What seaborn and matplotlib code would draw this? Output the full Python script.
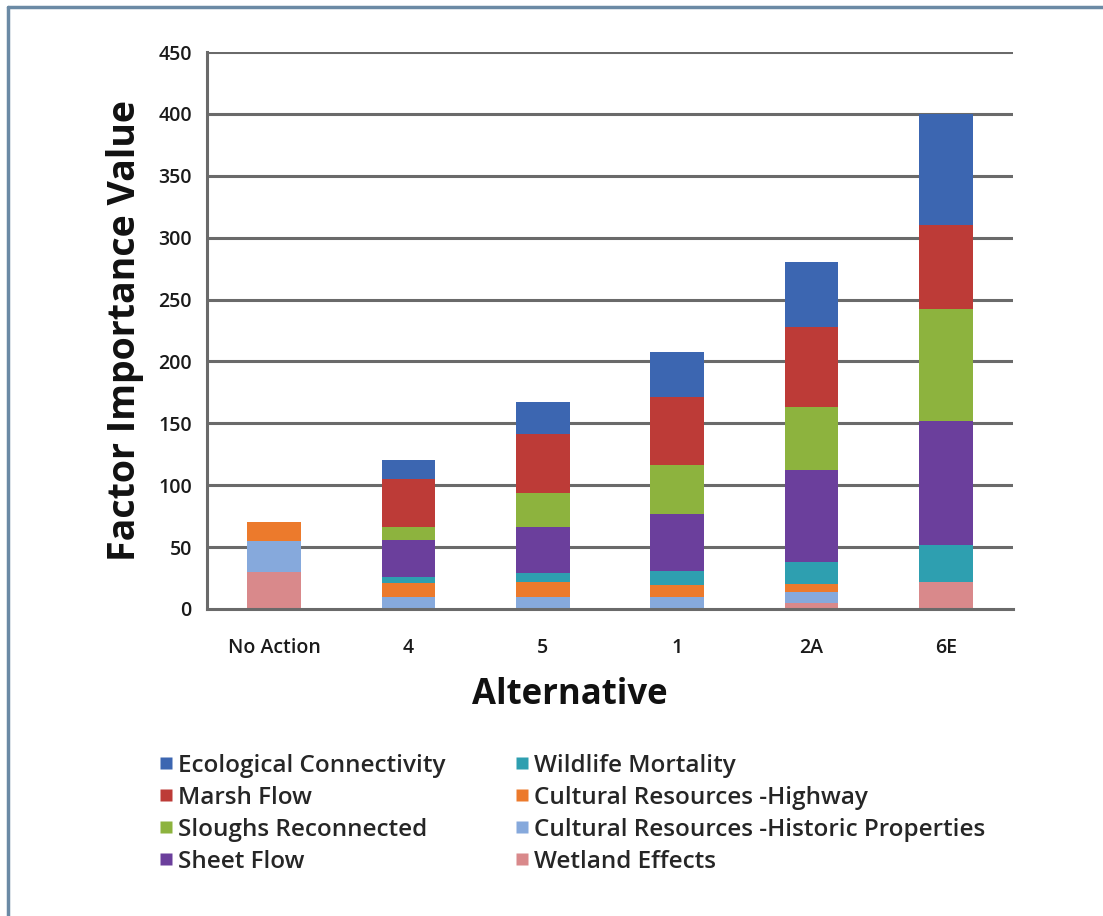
import numpy as np
import pandas as pd
import matplotlib
matplotlib.use("Agg")
import matplotlib.pyplot as plt
from matplotlib.lines import Line2D
import seaborn as sns

# Alternatives along the x axis
alternatives = ["No Action", "4", "5", "1", "2A", "6E"]

# Factor importance values per alternative (stacked bottom to top)
wetland_effects      = [30, 0, 0, 0, 5, 22]
cultural_historic    = [25, 10, 10, 10, 9, 0]
cultural_highway     = [15, 11, 12, 9, 6, 0]
wildlife_mortality   = [0, 5, 7, 12, 18, 30]
sheet_flow           = [0, 30, 37, 46, 74, 100]
sloughs_reconnected  = [0, 10, 28, 39, 51, 90]
marsh_flow           = [0, 39, 47, 55, 65, 68]
ecological_connect   = [0, 15, 26, 37, 52, 90]

series_names = [
    "Wetland Effects",
    "Cultural Resources -Historic Properties",
    "Cultural Resources -Highway",
    "Wildlife Mortality",
    "Sheet Flow",
    "Sloughs Reconnected",
    "Marsh Flow",
    "Ecological Connectivity",
]
series_values = [
    wetland_effects, cultural_historic, cultural_highway, wildlife_mortality,
    sheet_flow, sloughs_reconnected, marsh_flow, ecological_connect,
]
series_colors = [
    "#d9898b", "#86a9dc", "#ec7a2c", "#2e9fb0",
    "#6b3f9c", "#8db33e", "#bd3b37", "#3c66b1",
]

y_ticks = [0, 50, 100, 150, 200, 250, 300, 350, 400, 450]

sns.set_style("white")
plt.rcParams["font.family"] = ["Open Sans", "DejaVu Sans"]

fig = plt.figure(figsize=(11.03, 9.16), dpi=100)
ax = fig.add_axes([0.1877, 0.3352, 0.7307, 0.6080])

# Horizontal gridlines behind the bars
for t in y_ticks[1:]:
    ax.axhline(t, color="#6a6a6a", lw=2.2, zorder=0)

bottom = np.zeros(len(alternatives))
for name, vals, col in zip(series_names, series_values, series_colors):
    df = pd.DataFrame({"alt": alternatives, "val": vals})
    sns.barplot(data=df, x="alt", y="val", order=alternatives, color=col,
                width=0.4, bottom=bottom, ax=ax, saturation=1,
                edgecolor="none", linewidth=0, zorder=2)
    bottom = bottom + np.asarray(vals, dtype=float)

ax.set_ylim(0, 450)
ax.set_xlim(-0.5, 5.5)
ax.set_yticks(y_ticks)
ax.set_yticklabels([str(t) for t in y_ticks], fontsize=14,
                   fontweight="semibold", color="#1a1a1a")

# Category labels centred on bars, tick marks on category boundaries
ax.set_xticks(np.arange(len(alternatives)))
ax.set_xticklabels(alternatives, fontsize=14, fontweight="semibold",
                   color="#1a1a1a")
ax.tick_params(axis="x", length=0, pad=21)
ax.set_xticks(np.arange(-0.5, len(alternatives), 1.0), minor=True)
ax.tick_params(axis="x", which="minor", length=5, width=1.5, color="#6a6a6a",
               direction="out")
ax.tick_params(axis="y", length=5, width=1.5, color="#6a6a6a",
               direction="out", pad=6)

for side in ["top", "right"]:
    ax.spines[side].set_visible(False)
for side in ["left", "bottom"]:
    ax.spines[side].set_color("#6a6a6a")
    ax.spines[side].set_linewidth(2.2)

ax.set_xlabel("Alternative", fontsize=25, fontweight="bold", color="#111111")
ax.xaxis.set_label_coords(0.450, -0.122)
ax.set_ylabel("Factor Importance Value", fontsize=27, fontweight="bold",
              labelpad=10, color="#111111")

# Legend in legend order: two columns of four
legend_order = [7, 6, 5, 4, 3, 2, 1, 0]
handles = [Line2D([0], [0], marker="s", linestyle="none", markersize=8,
                  markerfacecolor=series_colors[i], markeredgecolor="none")
           for i in legend_order]
labels = [series_names[i] for i in legend_order]
fig.legend(handles, labels, loc="upper left",
           bbox_to_anchor=(134 / 1103, 1 - 732 / 916), ncol=2, frameon=False,
           handletextpad=0.1, handlelength=0.8,
           columnspacing=2.75, labelspacing=0.33,
           prop={"size": 17.5, "weight": "semibold"})

# Thin frame along the top and left edges
fig.add_artist(Line2D([8 / 1103, 8 / 1103], [0, 1 - 7 / 916],
                      transform=fig.transFigure, color="#6b8aa5", lw=2.5))
fig.add_artist(Line2D([8 / 1103, 1], [1 - 7 / 916, 1 - 7 / 916],
                      transform=fig.transFigure, color="#6b8aa5", lw=2.5))

fig.savefig("out.png", dpi=100)
